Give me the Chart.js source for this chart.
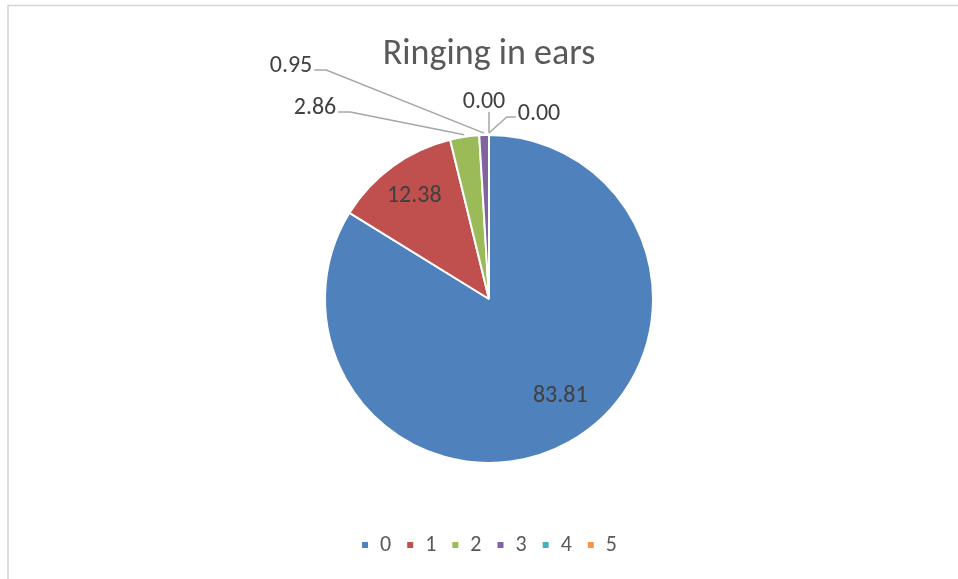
<!DOCTYPE html>
<html>
<head>
<meta charset="utf-8">
<script src="https://cdn.jsdelivr.net/npm/chart.js@4.4.0/dist/chart.umd.min.js"></script>
<style>
html,body{margin:0;padding:0;background:#fff;}
canvas{display:block;}
</style>
</head>
<body>
<canvas id="c" width="958" height="579"></canvas>
<script>
// ---- data ----
const titleText = 'Ringing in ears';
const categories = ['0', '1', '2', '3', '4', '5'];
const values = [83.81, 12.38, 2.86, 0.95, 0.00, 0.00];
const valueLabels = ['83.81', '12.38', '2.86', '0.95', '0.00', '0.00'];

// ---- styles ----
const sliceColors = ['#4F81BD', '#C0504D', '#9BBB59', '#8064A2', '#4BACC6', '#F79646'];
const FONT = 'Carlito, Lato, "Open Sans", sans-serif';
// label placement (inside: fraction of radius + nudge; outside: offset from pie centre)
const labelPlacement = [
  { mode: 'inside', r: 0.73, nx: 13, ny: -8 },
  { mode: 'inside', r: 0.775, nx: 0, ny: 0 },
  { mode: 'outside', dx: -174, dy: -191, side: 'right' },
  { mode: 'outside', dx: -198, dy: -233, side: 'right' },
  { mode: 'outside', dx: -5, dy: -197, side: 'bottom' },
  { mode: 'outside', dx: 50, dy: -185, side: 'left' }
];

const frameAndLabels = {
  id: 'frameAndLabels',
  beforeDraw(chart) {
    const ctx = chart.ctx;
    ctx.save();
    ctx.fillStyle = '#ffffff';
    ctx.fillRect(0, 0, chart.width, chart.height);
    ctx.strokeStyle = '#d4d4d4';
    ctx.lineWidth = 1.5;
    ctx.strokeRect(8, 5.5, chart.width, chart.height - 3);
    ctx.restore();
  },
  afterDatasetsDraw(chart) {
    const ctx = chart.ctx;
    const meta = chart.getDatasetMeta(0);
    ctx.save();
    ctx.font = '24px ' + FONT;
    ctx.textAlign = 'center';
    ctx.textBaseline = 'middle';
    meta.data.forEach((arc, i) => {
      const p = arc.getProps(['x', 'y', 'startAngle', 'endAngle', 'outerRadius'], true);
      const mid = (p.startAngle + p.endAngle) / 2;
      const pl = labelPlacement[i];
      const txt = valueLabels[i];
      if (pl.mode === 'inside') {
        const tx = p.x + Math.cos(mid) * p.outerRadius * pl.r + pl.nx;
        const ty = p.y + Math.sin(mid) * p.outerRadius * pl.r + pl.ny;
        ctx.fillStyle = '#404040';
        ctx.fillText(txt, tx, ty);
      } else {
        const ax = p.x + Math.cos(mid) * (p.outerRadius + 2);
        const ay = p.y + Math.sin(mid) * (p.outerRadius + 2);
        const tx = p.x + pl.dx;
        const ty = p.y + pl.dy;
        const hw = ctx.measureText(txt).width / 2;
        ctx.strokeStyle = '#a6a6a6';
        ctx.lineWidth = 1.5;
        ctx.beginPath();
        if (pl.side === 'right') {
          const sx = tx + hw + 2, sy = ty + 4;
          ctx.moveTo(sx, sy);
          ctx.lineTo(sx + 12, sy);
          ctx.lineTo(ax, ay);
        } else if (pl.side === 'left') {
          const sx = tx - hw - 2, sy = ty + 3;
          ctx.moveTo(sx, sy);
          ctx.lineTo(sx - 9, sy);
          ctx.lineTo(ax, ay);
        } else {
          ctx.moveTo(ax, ty + 10);
          ctx.lineTo(ax, ay);
        }
        ctx.stroke();
        ctx.fillStyle = '#404040';
        ctx.fillText(txt, tx, ty);
      }
    });
    ctx.restore();
  }
};

new Chart(document.getElementById('c'), {
  type: 'pie',
  data: {
    labels: categories,
    datasets: [{
      data: values,
      backgroundColor: sliceColors,
      borderColor: '#ffffff',
      borderWidth: 2,
      radius: 164
    }]
  },
  options: {
    responsive: false,
    animation: false,
    layout: { padding: { top: 0, left: 20, right: 0, bottom: 13 } },
    plugins: {
      title: {
        display: true,
        text: titleText,
        color: '#595959',
        font: { family: FONT, size: 36, weight: 'normal', lineHeight: 1.2 },
        padding: { top: 33.4, bottom: 58.4 }
      },
      subtitle: {
        display: true,
        text: '',
        position: 'bottom',
        weight: 500,
        font: { size: 10, lineHeight: 1.25 },
        padding: { top: 43.5, bottom: 0 }
      },
      legend: {
        display: true,
        position: 'bottom',
        labels: {
          color: '#595959',
          font: { family: FONT, size: 22 },
          boxWidth: 8,
          boxHeight: 8,
          padding: 15
        }
      },
      tooltip: { enabled: false }
    }
  },
  plugins: [frameAndLabels]
});
</script>
</body>
</html>
